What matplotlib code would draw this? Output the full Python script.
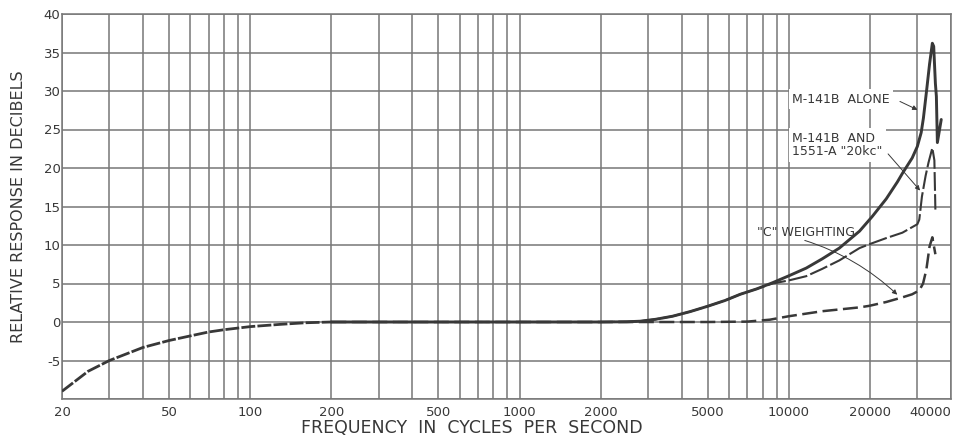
import matplotlib.pyplot as plt
import matplotlib.ticker as mticker

# --- data ---
# shared low-frequency roll-off (all three curves coincide here)
low_freq = [20, 25, 30, 40, 50, 60, 70, 80, 100, 130, 160, 200]
low_db = [-9.0, -6.4, -5.0, -3.3, -2.4, -1.8, -1.3, -1.0, -0.6, -0.3, -0.1, 0.0]

# M-141B alone
alone_freq = [200, 1000, 2000, 2500, 2800, 3200, 3700, 4300, 5000, 5800, 6600, 7600,
              8700, 10000, 11600, 13300, 15400, 18300, 20400, 23000, 25300, 26400,
              28700, 30000, 31000, 31600, 32500, 33300, 34100, 34500, 35000, 35300,
              35600, 36800]
alone_db = [0.0, 0.0, 0.0, 0.03, 0.1, 0.35, 0.75, 1.35, 2.05, 2.8, 3.6, 4.3,
            5.1, 6.0, 7.0, 8.2, 9.6, 11.8, 13.7, 16.0, 18.2, 19.3,
            21.3, 22.8, 24.6, 26.5, 30.2, 33.5, 36.2, 35.8, 31.0, 29.3,
            23.3, 26.3]

# M-141B and 1551-A "20kc"
and_freq = [200, 2000, 2500, 2800, 3200, 3700, 4300, 5000, 5800, 6600, 7600, 8700,
            10000, 11600, 13300, 15400, 18300, 19900, 23000, 26400, 30000, 30500,
            31200, 32200, 33000, 34100, 34700, 35000]
and_db = [0.0, 0.0, 0.03, 0.1, 0.35, 0.75, 1.35, 2.05, 2.8, 3.6, 4.3, 5.0,
          5.4, 5.95, 6.9, 8.0, 9.6, 10.1, 10.9, 11.6, 12.7, 13.3,
          16.3, 19.0, 20.7, 22.6, 21.0, 14.6]

# "C" weighting
c_freq = [200, 2000, 5000, 7000, 8500, 10000, 13300, 18300, 19900, 23000, 26400,
          28700, 30500, 31500, 32400, 33300, 34100, 35000]
c_db = [0.0, 0.0, 0.0, 0.05, 0.3, 0.75, 1.4, 1.9, 2.1, 2.6, 3.2,
        3.6, 4.1, 5.0, 6.8, 9.8, 11.0, 8.8]

grid_freq = [20, 30, 40, 50, 60, 70, 80, 90,
             100, 200, 300, 400, 500, 600, 700, 800, 900,
             1000, 2000, 3000, 4000, 5000, 6000, 7000, 8000, 9000,
             10000, 20000, 30000, 40000]
x_tick_vals = [20, 50, 100, 200, 500, 1000, 2000, 5000, 10000, 20000, 40000]
x_tick_labels = ['20', '50', '100', '200', '500', '1000', '2000', '5000',
                 '10000', '20000', '40000']
y_tick_vals = [-5, 0, 5, 10, 15, 20, 25, 30, 35, 40]
y_grid_vals = [-10, -5, 0, 5, 10, 15, 20, 25, 30, 35, 40]

ink = '#383838'
grid_col = '#777777'

fig = plt.figure(figsize=(9.66, 4.38), dpi=100)
ax = fig.add_axes([62 / 966, 1 - 399 / 438, (951 - 62) / 966, (399 - 14) / 438])

ax.set_xscale('log')
ax.set_xlim(20, 40000)
ax.set_ylim(-10, 40)

# grid
for f in grid_freq:
    ax.axvline(f, color=grid_col, lw=1.1, zorder=1)
for v in y_grid_vals:
    ax.axhline(v, color=grid_col, lw=1.1, zorder=1)
for s in ax.spines.values():
    s.set_color(grid_col)
    s.set_linewidth(1.1)

# curves
ax.plot(low_freq, low_db, color=ink, lw=2.0, dashes=(5, 0.8), zorder=3)
ax.plot(alone_freq, alone_db, color=ink, lw=2.1, zorder=4,
        solid_joinstyle='round', solid_capstyle='round')
ax.plot(and_freq, and_db, color=ink, lw=1.5, dashes=(9, 1.6), zorder=3)
ax.plot(c_freq, c_db, color=ink, lw=1.8, dashes=(6, 2.2), zorder=3)

# ticks
ax.xaxis.set_major_locator(mticker.FixedLocator(x_tick_vals))
ax.xaxis.set_minor_locator(mticker.NullLocator())
ax.set_xticklabels(x_tick_labels)
ax.set_yticks(y_tick_vals)
ax.set_yticklabels([str(v) for v in y_tick_vals])
ax.tick_params(axis='both', length=0, colors=ink, labelsize=9.5)
ax.tick_params(axis='x', pad=5)
ax.tick_params(axis='y', pad=1)
ax.get_xticklabels()[-1].set_horizontalalignment('right')

# labels
fig.text(472 / 966, 1 - 428 / 438, 'FREQUENCY  IN  CYCLES  PER  SECOND',
         ha='center', va='center', fontsize=12.5, color=ink)
fig.text(19 / 966, 1 - 207 / 438, 'RELATIVE RESPONSE IN DECIBELS',
         ha='center', va='center', rotation=90, fontsize=11.5, color=ink)

# annotations
box = dict(facecolor='white', edgecolor='none', pad=2.5)
ax.text(10300, 28.9, 'M-141B  ALONE', fontsize=9, color=ink,
        va='center', ha='left', bbox=box, zorder=5)
ax.text(10300, 23.0, 'M-141B  AND\n1551-A "20kc"', fontsize=9, color=ink,
        va='center', ha='left', linespacing=1.05, bbox=box, zorder=5)
ax.text(7600, 11.6, '"C" WEIGHTING', fontsize=9, color=ink,
        va='center', ha='left', zorder=5)

arrow = dict(arrowstyle='-|>', color=ink, lw=0.7, mutation_scale=7)
ax.annotate('', xy=(30700, 27.4), xytext=(25300, 28.8), arrowprops=arrow, zorder=6)
ax.annotate('', xy=(31200, 16.8), xytext=(23000, 22.1), arrowprops=arrow, zorder=6)
ax.annotate('', xy=(25700, 3.3), xytext=(11200, 10.7),
            arrowprops=dict(arrow, connectionstyle='arc3,rad=-0.12'), zorder=6)

fig.savefig('out.png', dpi=100)
